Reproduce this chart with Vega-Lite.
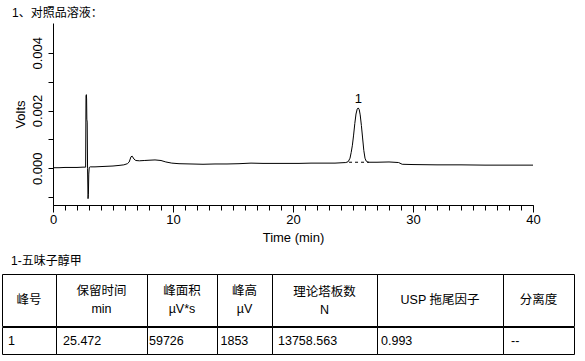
{
  "$schema": "https://vega.github.io/schema/vega-lite/v6.json",
  "padding": {"left": 1, "top": 7, "right": 0, "bottom": 0},
  "config": {
    "font": "Liberation Sans, Noto Sans CJK SC",
    "view": {"stroke": "black", "strokeWidth": 1},
    "axis": {"domainColor": "black", "tickColor": "black", "labelColor": "black", "titleColor": "black", "labelFont": "Liberation Sans", "titleFont": "Liberation Sans", "labelFontSize": 13, "titleFontSize": 13, "titleFontWeight": "normal", "grid": false, "labelFlush": false},
    "title": {"font": "Liberation Sans, Noto Sans CJK SC", "fontSize": 12, "fontWeight": "normal", "color": "black", "anchor": "start"},
    "text": {"font": "Liberation Sans, Noto Sans CJK SC", "color": "black"}
  },
  "datasets": {
    "trace": [
      {"t": 0, "v": 0.00002}, {"t": 0.5, "v": 0.00002}, {"t": 1, "v": 0.00003}, {"t": 1.5, "v": 0.00003}, {"t": 2, "v": 0.00003}, {"t": 2.5, "v": 0.00004}, {"t": 2.72, "v": 0.00004},
      {"t": 2.75, "v": 0.0025}, {"t": 2.78, "v": 0.00255}, {"t": 2.8, "v": 0.0024}, {"t": 2.82, "v": 0.0017}, {"t": 2.85, "v": 0.0016}, {"t": 2.88, "v": 0.0},
      {"t": 2.92, "v": -0.00105}, {"t": 2.95, "v": -0.0009}, {"t": 2.98, "v": -0.0002}, {"t": 3.02, "v": 0.00003}, {"t": 3.1, "v": 0.00005}, {"t": 3.5, "v": 0.00005},
      {"t": 4, "v": 0.00006}, {"t": 4.5, "v": 0.00007}, {"t": 5, "v": 0.00008}, {"t": 5.5, "v": 0.0001}, {"t": 5.9, "v": 0.00012}, {"t": 6.2, "v": 0.00016},
      {"t": 6.35, "v": 0.00022}, {"t": 6.5, "v": 0.0004}, {"t": 6.6, "v": 0.00042}, {"t": 6.75, "v": 0.00032}, {"t": 6.9, "v": 0.00027}, {"t": 7.2, "v": 0.00026},
      {"t": 7.6, "v": 0.00027}, {"t": 8, "v": 0.00028}, {"t": 8.5, "v": 0.00029}, {"t": 9, "v": 0.00027}, {"t": 9.4, "v": 0.00022}, {"t": 9.9, "v": 0.00018},
      {"t": 10.5, "v": 0.00016}, {"t": 11.5, "v": 0.00015}, {"t": 12.5, "v": 0.00014}, {"t": 13.5, "v": 0.00015}, {"t": 14.5, "v": 0.00015}, {"t": 15.5, "v": 0.00016},
      {"t": 16.5, "v": 0.00018}, {"t": 17.5, "v": 0.00017}, {"t": 18.5, "v": 0.00017}, {"t": 19.5, "v": 0.00017}, {"t": 20.5, "v": 0.00017}, {"t": 21.5, "v": 0.00018},
      {"t": 22.5, "v": 0.00018}, {"t": 23.5, "v": 0.00018}, {"t": 24.4, "v": 0.0002}, {"t": 24.6, "v": 0.00023}, {"t": 24.75, "v": 0.00035}, {"t": 24.85, "v": 0.00055},
      {"t": 24.95, "v": 0.0008}, {"t": 25.05, "v": 0.00115}, {"t": 25.15, "v": 0.00155}, {"t": 25.25, "v": 0.00188}, {"t": 25.35, "v": 0.00205}, {"t": 25.44, "v": 0.00209},
      {"t": 25.52, "v": 0.00203}, {"t": 25.6, "v": 0.00185}, {"t": 25.7, "v": 0.00148}, {"t": 25.8, "v": 0.00105}, {"t": 25.9, "v": 0.00062}, {"t": 26.0, "v": 0.00035},
      {"t": 26.1, "v": 0.00025}, {"t": 26.25, "v": 0.00021}, {"t": 27, "v": 0.00021}, {"t": 28, "v": 0.00022}, {"t": 28.8, "v": 0.0002}, {"t": 29.1, "v": 0.00014},
      {"t": 30, "v": 0.00013}, {"t": 32, "v": 0.00012}, {"t": 34, "v": 0.00012}, {"t": 36, "v": 0.00011}, {"t": 38, "v": 0.00011}, {"t": 40, "v": 0.00011}
    ],
    "baseline": [{"t": 24.67, "v": 0.00021}, {"t": 26.33, "v": 0.00021}],
    "peaks": [{"t": 25.44, "v": 0.00209, "label": "1"}],
    "table": [
      {"col": 1, "header": "峰号", "value": "1"},
      {"col": 2, "header": "保留时间\nmin", "value": "25.472"},
      {"col": 3, "header": "峰面积\nµV*s", "value": "59726"},
      {"col": 4, "header": "峰高\nµV", "value": "1853"},
      {"col": 5, "header": "理论塔板数\nN", "value": "13758.563"},
      {"col": 6, "header": "USP 拖尾因子", "value": "0.993"},
      {"col": 7, "header": "分离度", "value": "--"}
    ]
  },
  "spacing": 10,
  "vconcat": [
    {
      "width": 531,
      "height": 182,
      "view": {"stroke": null},
      "title": {"text": "1、对照品溶液：", "dx": 10, "offset": 3},
      "layer": [
        {
          "data": {"name": "trace"},
          "mark": {"type": "line", "color": "black", "strokeWidth": 1},
          "encoding": {
            "x": {"field": "t", "type": "quantitative", "scale": {"domain": [0, 40], "range": [51, 531], "nice": false, "zero": false},
                  "axis": {"values": [0, 10, 20, 30, 40], "format": "d", "tickSize": 7, "labelPadding": 1, "title": "Time (min)", "titlePadding": 5}},
            "y": {"field": "v", "type": "quantitative", "scale": {"domain": [-0.00127, 0.00503], "nice": false, "zero": false},
                  "axis": {"orient": "left", "values": [0, 0.002, 0.004], "format": ".3f", "offset": -51, "tickSize": 5, "labelAngle": 270, "labelAlign": "center", "labelBaseline": "bottom", "labelPadding": 4, "labelOverlap": false, "title": "Volts", "titlePadding": 4}}
          }
        },
        {
          "data": {"name": "baseline"},
          "mark": {"type": "line", "color": "black", "strokeWidth": 1, "strokeDash": [3, 3]},
          "encoding": {
            "x": {"field": "t", "type": "quantitative", "axis": {"orient": "bottom", "values": [0,1,2,3,4,5,6,7,8,9,10,11,12,13,14,15,16,17,18,19,20,21,22,23,24,25,26,27,28,29,30,31,32,33,34,35,36,37,38,39,40], "labels": false, "tickSize": 5, "domain": false, "title": null}},
            "y": {"field": "v", "type": "quantitative", "axis": {"orient": "left", "values": [-0.001, 0.001, 0.003], "offset": -51, "labels": false, "tickSize": 5, "domain": false, "title": null}}
          }
        },
        {
          "data": {"name": "peaks"},
          "mark": {"type": "text", "baseline": "alphabetic", "dy": -5, "fontSize": 13, "font": "Liberation Sans", "color": "black"},
          "encoding": {
            "x": {"field": "t", "type": "quantitative", "axis": null},
            "y": {"field": "v", "type": "quantitative", "axis": null},
            "text": {"field": "label"}
          }
        }
      ],
      "resolve": {"axis": {"x": "independent", "y": "independent"}}
    },
    {
      "title": {"text": "1-五味子醇甲", "dx": 9.5, "offset": 6},
      "data": {"name": "table"},
      "spacing": -1,
      "vconcat": [
        {"spacing": 0, "bounds": "flush", "hconcat": [
          {"width": 54, "height": 52, "transform": [{"filter": "datum.col == 1"}], "mark": {"type": "text", "fontSize": 12.5, "lineBreak": "\n", "lineHeight": 18, "baseline": "middle", "color": "black"}, "encoding": {"x": {"datum": 0.5, "type": "quantitative", "scale": {"domain": [0, 1]}, "axis": null}, "text": {"field": "header"}}},
          {"width": 91, "height": 52, "transform": [{"filter": "datum.col == 2"}], "mark": {"type": "text", "fontSize": 12.5, "lineBreak": "\n", "lineHeight": 18, "baseline": "middle", "dy": -9, "color": "black"}, "encoding": {"x": {"datum": 0.5, "type": "quantitative", "scale": {"domain": [0, 1]}, "axis": null}, "text": {"field": "header"}}},
          {"width": 70, "height": 52, "transform": [{"filter": "datum.col == 3"}], "mark": {"type": "text", "fontSize": 12.5, "lineBreak": "\n", "lineHeight": 18, "baseline": "middle", "dy": -9, "color": "black"}, "encoding": {"x": {"datum": 0.5, "type": "quantitative", "scale": {"domain": [0, 1]}, "axis": null}, "text": {"field": "header"}}},
          {"width": 55, "height": 52, "transform": [{"filter": "datum.col == 4"}], "mark": {"type": "text", "fontSize": 12.5, "lineBreak": "\n", "lineHeight": 18, "baseline": "middle", "dy": -9, "color": "black"}, "encoding": {"x": {"datum": 0.5, "type": "quantitative", "scale": {"domain": [0, 1]}, "axis": null}, "text": {"field": "header"}}},
          {"width": 105, "height": 52, "transform": [{"filter": "datum.col == 5"}], "mark": {"type": "text", "fontSize": 12.5, "lineBreak": "\n", "lineHeight": 18, "baseline": "middle", "dy": -8, "color": "black"}, "encoding": {"x": {"datum": 0.5, "type": "quantitative", "scale": {"domain": [0, 1]}, "axis": null}, "text": {"field": "header"}}},
          {"width": 126, "height": 52, "transform": [{"filter": "datum.col == 6"}], "mark": {"type": "text", "fontSize": 12.5, "lineBreak": "\n", "lineHeight": 18, "baseline": "middle", "color": "black"}, "encoding": {"x": {"datum": 0.5, "type": "quantitative", "scale": {"domain": [0, 1]}, "axis": null}, "text": {"field": "header"}}},
          {"width": 71, "height": 52, "transform": [{"filter": "datum.col == 7"}], "mark": {"type": "text", "fontSize": 12.5, "lineBreak": "\n", "lineHeight": 18, "baseline": "middle", "color": "black"}, "encoding": {"x": {"datum": 0.5, "type": "quantitative", "scale": {"domain": [0, 1]}, "axis": null}, "text": {"field": "header"}}}
        ]},
        {"spacing": 0, "bounds": "flush", "hconcat": [
          {"width": 54, "height": 27, "transform": [{"filter": "datum.col == 1"}], "mark": {"type": "text", "fontSize": 12.5, "align": "left", "baseline": "middle", "dx": 6, "color": "black"}, "encoding": {"x": {"datum": 0, "type": "quantitative", "scale": {"domain": [0, 1]}, "axis": null}, "text": {"field": "value"}}},
          {"width": 91, "height": 27, "transform": [{"filter": "datum.col == 2"}], "mark": {"type": "text", "fontSize": 12.5, "align": "left", "baseline": "middle", "dx": 7, "color": "black"}, "encoding": {"x": {"datum": 0, "type": "quantitative", "scale": {"domain": [0, 1]}, "axis": null}, "text": {"field": "value"}}},
          {"width": 70, "height": 27, "transform": [{"filter": "datum.col == 3"}], "mark": {"type": "text", "fontSize": 12.5, "align": "left", "baseline": "middle", "dx": 2, "color": "black"}, "encoding": {"x": {"datum": 0, "type": "quantitative", "scale": {"domain": [0, 1]}, "axis": null}, "text": {"field": "value"}}},
          {"width": 55, "height": 27, "transform": [{"filter": "datum.col == 4"}], "mark": {"type": "text", "fontSize": 12.5, "align": "left", "baseline": "middle", "dx": 3.5, "color": "black"}, "encoding": {"x": {"datum": 0, "type": "quantitative", "scale": {"domain": [0, 1]}, "axis": null}, "text": {"field": "value"}}},
          {"width": 105, "height": 27, "transform": [{"filter": "datum.col == 5"}], "mark": {"type": "text", "fontSize": 12.5, "align": "left", "baseline": "middle", "dx": 6, "color": "black"}, "encoding": {"x": {"datum": 0, "type": "quantitative", "scale": {"domain": [0, 1]}, "axis": null}, "text": {"field": "value"}}},
          {"width": 126, "height": 27, "transform": [{"filter": "datum.col == 6"}], "mark": {"type": "text", "fontSize": 12.5, "align": "left", "baseline": "middle", "dx": 4, "color": "black"}, "encoding": {"x": {"datum": 0, "type": "quantitative", "scale": {"domain": [0, 1]}, "axis": null}, "text": {"field": "value"}}},
          {"width": 71, "height": 27, "transform": [{"filter": "datum.col == 7"}], "mark": {"type": "text", "fontSize": 12.5, "align": "left", "baseline": "middle", "dx": 8, "color": "black"}, "encoding": {"x": {"datum": 0, "type": "quantitative", "scale": {"domain": [0, 1]}, "axis": null}, "text": {"field": "value"}}}
        ]}
      ]
    }
  ]
}
